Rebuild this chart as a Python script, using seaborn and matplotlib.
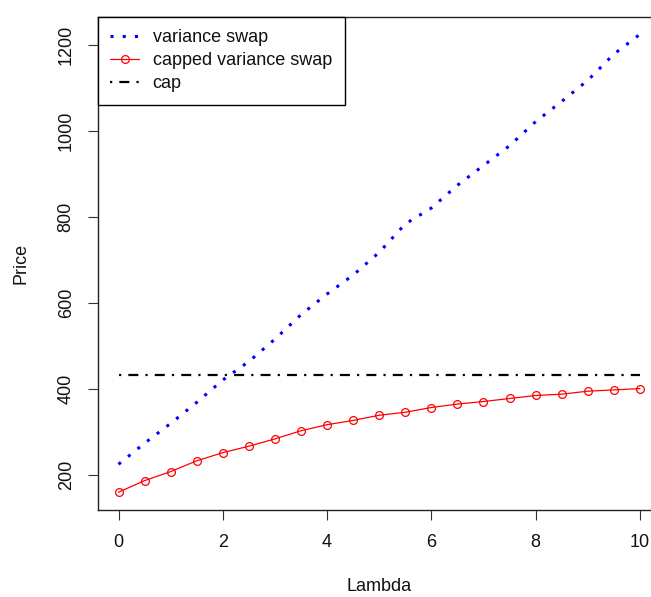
import matplotlib
matplotlib.use("Agg")
import matplotlib.pyplot as plt
import seaborn as sns
import numpy as np
import pandas as pd

# ---- data ----
lam = [0, 0.5, 1, 1.5, 2, 2.5, 3, 3.5, 4, 4.5, 5, 5.5, 6, 6.5, 7, 7.5, 8, 8.5, 9, 9.5, 10]
variance_swap = [225, 274, 320, 369, 421, 464, 516, 573, 621, 665, 718, 784, 821, 874,
                 920, 966, 1022, 1069, 1118, 1179, 1225]
capped_swap = [160, 187, 208, 233, 252, 267, 284, 303, 317, 327, 339, 346, 357, 365,
               371, 378, 385, 388, 395, 398, 401]
cap_value = 432
x_ticks = [0, 2, 4, 6, 8, 10]
y_ticks = [200, 400, 600, 800, 1000, 1200]

sns.set_theme(style="white")
plt.rcParams['font.family'] = ['Liberation Sans', 'DejaVu Sans']

FS = 13

df = pd.DataFrame({"Lambda": lam, "var": variance_swap, "capped": capped_swap,
                   "cap": [cap_value] * len(lam)})

fig = plt.figure(figsize=(6.51, 5.97), dpi=100)
ax = fig.add_axes([0.150, 0.1457, 0.865, 0.8263])

sns.lineplot(data=df, x="Lambda", y="var", ax=ax, color="blue", lw=2.2,
             dashes=False, label="variance swap")
ax.lines[-1].set_dashes((1, 3))
ax.lines[-1].set_dash_capstyle("butt")
sns.lineplot(data=df, x="Lambda", y="capped", ax=ax, color="red", lw=0.9,
             marker="o", markersize=5.6, markerfacecolor="none",
             markeredgecolor="red", markeredgewidth=0.9, label="capped variance swap")
sns.lineplot(data=df, x="Lambda", y="cap", ax=ax, color="black", lw=1.6,
             label="cap")
ax.lines[-1].set_dashes((1, 3.2, 4.5, 3.2))

ax.set_xlim(-0.4, 10.4)
ax.set_ylim(118.6, 1266)
ax.set_xticks(x_ticks)
ax.set_yticks(y_ticks)
ax.set_xticklabels([str(t) for t in x_ticks], fontsize=FS)
ax.set_yticklabels([str(t) for t in y_ticks], fontsize=FS, rotation=90, va="center")
ax.tick_params(axis="both", direction="out", length=7.5, width=0.8, color="#333333",
               bottom=True, left=True, labelcolor="#111111")
ax.tick_params(axis="x", pad=10)
ax.tick_params(axis="y", pad=9)
for s in ax.spines.values():
    s.set_color("#222222")
    s.set_linewidth(1.0)

ax.set_xlabel("Lambda", fontsize=FS, labelpad=19, color="#111111")
ax.set_ylabel("Price", fontsize=FS, labelpad=20, color="#111111")

leg = ax.legend(loc="upper left", borderaxespad=0, fontsize=FS, frameon=True,
                fancybox=False, framealpha=1, edgecolor="black", handlelength=1.6,
                handletextpad=0.75, borderpad=0.7, labelspacing=0.33)
leg.get_frame().set_linewidth(1.0)
for t in leg.get_texts():
    t.set_color("#111111")

fig.savefig("out.png", dpi=100)
